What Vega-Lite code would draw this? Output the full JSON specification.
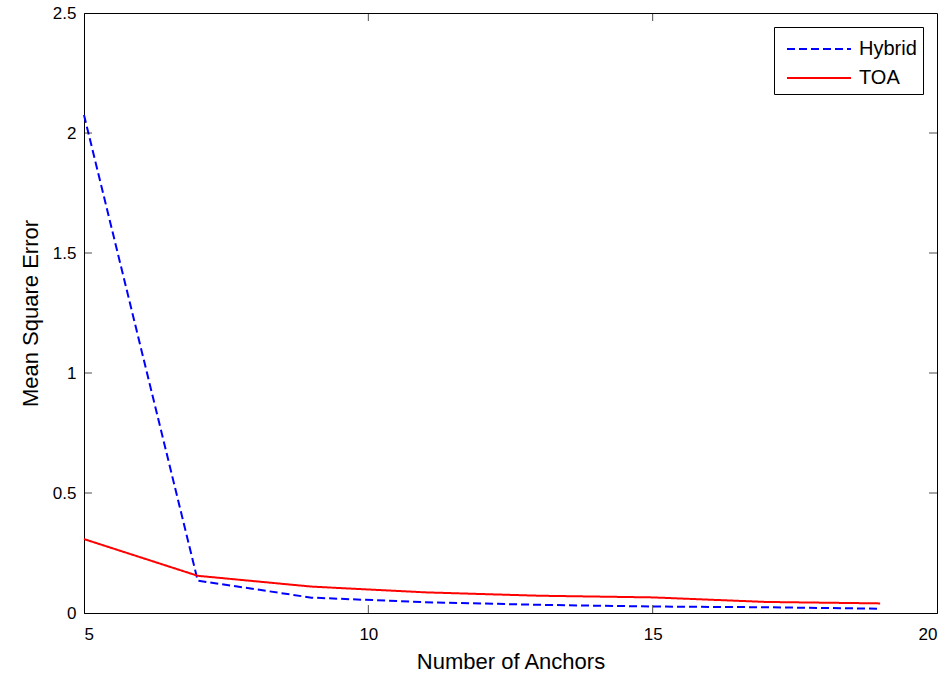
{
  "$schema": "https://vega.github.io/schema/vega-lite/v6.json",
  "width": 853,
  "height": 600,
  "autosize": "none",
  "padding": {"left": 84, "top": 13, "right": 13, "bottom": 64},
  "background": "white",
  "config": {
    "font": "Liberation Sans",
    "view": {"stroke": "black", "strokeWidth": 1},
    "axis": {
      "grid": false,
      "ticks": false,
      "domainColor": "black",
      "labelColor": "black",
      "titleColor": "black",
      "labelFontSize": 17,
      "titleFontSize": 22,
      "titleFontWeight": "normal"
    }
  },
  "datasets": {
    "mse": [
      {"anchors": 5, "mse": 2.075, "method": "Hybrid"},
      {"anchors": 7, "mse": 0.135, "method": "Hybrid"},
      {"anchors": 9, "mse": 0.064, "method": "Hybrid"},
      {"anchors": 11, "mse": 0.045, "method": "Hybrid"},
      {"anchors": 13, "mse": 0.034, "method": "Hybrid"},
      {"anchors": 15, "mse": 0.027, "method": "Hybrid"},
      {"anchors": 17, "mse": 0.024, "method": "Hybrid"},
      {"anchors": 19, "mse": 0.018, "method": "Hybrid"},
      {"anchors": 5, "mse": 0.308, "method": "TOA"},
      {"anchors": 7, "mse": 0.155, "method": "TOA"},
      {"anchors": 9, "mse": 0.11, "method": "TOA"},
      {"anchors": 11, "mse": 0.086, "method": "TOA"},
      {"anchors": 13, "mse": 0.072, "method": "TOA"},
      {"anchors": 15, "mse": 0.065, "method": "TOA"},
      {"anchors": 17, "mse": 0.046, "method": "TOA"},
      {"anchors": 19, "mse": 0.04, "method": "TOA"}
    ],
    "xticks": [{"value": 10}, {"value": 15}],
    "yticks": [{"value": 0.5}, {"value": 1}, {"value": 1.5}, {"value": 2}]
  },
  "layer": [
    {
      "data": {"name": "mse"},
      "mark": {"type": "line", "strokeWidth": 2},
      "encoding": {
        "x": {
          "field": "anchors", "type": "quantitative",
          "scale": {"domain": [5, 20], "nice": false, "zero": false},
          "axis": {"values": [5, 10, 15, 20], "format": "~g", "title": "Number of Anchors",
                   "labelPadding": 13, "titlePadding": 9}
        },
        "y": {
          "field": "mse", "type": "quantitative",
          "scale": {"domain": [0, 2.5], "nice": false},
          "axis": {"values": [0, 0.5, 1, 1.5, 2, 2.5], "format": "~g", "title": "Mean Square Error",
                   "labelPadding": 8, "titlePadding": 10}
        },
        "color": {
          "field": "method", "type": "nominal",
          "scale": {"domain": ["Hybrid", "TOA"], "range": ["#0000ff", "#ff0000"]},
          "legend": {
            "title": null,
            "orient": "none",
            "legendX": 690,
            "legendY": 14,
            "zindex": 2,
            "strokeColor": "black",
            "fillColor": "white",
            "padding": 6,
            "symbolType": "M-0.6,0H3.667",
            "symbolSize": 900,
            "symbolStrokeWidth": 2,
            "labelFontSize": 20,
            "labelColor": "black",
            "labelOffset": 47,
            "rowPadding": 3
          }
        },
        "strokeDash": {
          "field": "method", "type": "nominal",
          "scale": {"domain": ["Hybrid", "TOA"], "range": [[8, 4], [1, 0]]},
          "legend": null
        }
      }
    },
    {
      "data": {"name": "xticks"},
      "mark": {"type": "tick", "orient": "vertical", "color": "black", "thickness": 1, "size": 8, "yOffset": -4},
      "encoding": {
        "x": {"field": "value", "type": "quantitative"},
        "y": {"datum": 0, "type": "quantitative"}
      }
    },
    {
      "data": {"name": "xticks"},
      "mark": {"type": "tick", "orient": "vertical", "color": "black", "thickness": 1, "size": 8, "yOffset": 4},
      "encoding": {
        "x": {"field": "value", "type": "quantitative"},
        "y": {"datum": 2.5, "type": "quantitative"}
      }
    },
    {
      "data": {"name": "yticks"},
      "mark": {"type": "tick", "orient": "horizontal", "color": "black", "thickness": 1, "size": 8, "xOffset": 4},
      "encoding": {
        "y": {"field": "value", "type": "quantitative"},
        "x": {"datum": 5, "type": "quantitative"}
      }
    },
    {
      "data": {"name": "yticks"},
      "mark": {"type": "tick", "orient": "horizontal", "color": "black", "thickness": 1, "size": 8, "xOffset": -4},
      "encoding": {
        "y": {"field": "value", "type": "quantitative"},
        "x": {"datum": 20, "type": "quantitative"}
      }
    }
  ]
}
